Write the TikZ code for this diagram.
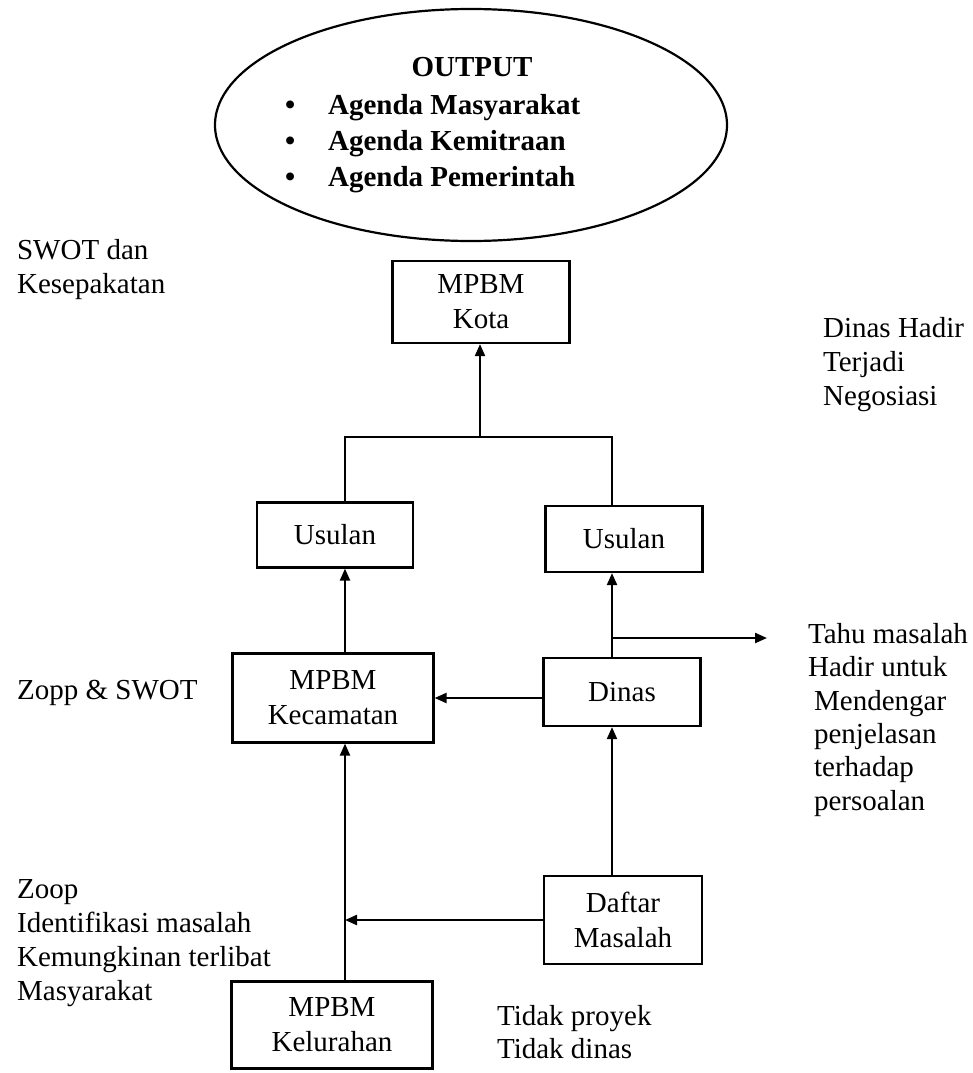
\documentclass[tikz,border=0pt]{standalone}
\usepackage{fontspec}
\setmainfont{Liberation Serif}
\usetikzlibrary{arrows.meta,shapes.geometric}
\tikzset{
  txt/.style = {align=left, inner sep=0pt, anchor=north west,
    font=\fontsize{29}{34.5}\selectfont},% loose text beside the chart
  bx/.style = {rectangle, draw=black, line width=2.2pt, align=center,
    inner sep=0pt, font=\fontsize{29}{35}\selectfont},% framed box
  ov/.style = {ellipse, draw=black, line width=2.2pt, inner sep=0pt,
    minimum width=512pt, minimum height=232pt}% output ellipse
}

\begin{document}
\begin{tikzpicture}[x=1pt,y=-1pt,line width=2.2pt,>={Triangle[length=12pt,width=10pt]}]
\useasboundingbox (0,0) rectangle (973,1073);
% output
\node [ov] (out) at (471,125) {};
\node [inner sep=0pt, anchor=base, font=\bfseries\fontsize{29}{35}\selectfont] (outt) at (472,77) {OUTPUT};
\node [txt, font=\bfseries\fontsize{29}{36}\selectfont] (agd) at (284,88)
  {\begin{tabular}{@{}p{43pt}@{}l@{}}
   \textbullet & Agenda Masyarakat\\
   \textbullet & Agenda Kemitraan\\
   \textbullet & Agenda Pemerintah
   \end{tabular}};
% boxes
\node [bx, minimum width=177pt, minimum height=82pt] (kota) at (481,302) {MPBM\\Kota};
\node [bx, minimum width=156pt, minimum height=65pt] (usl) at (335,535) {Usulan};
\node [bx, minimum width=157pt, minimum height=66pt] (usr) at (624,539) {Usulan};
\node [bx, minimum width=201pt, minimum height=89pt] (kec) at (333,698) {MPBM\\Kecamatan};
\node [bx, minimum width=157pt, minimum height=68pt] (dns) at (622,692) {Dinas};
\node [bx, minimum width=158pt, minimum height=88pt] (dft) at (623,920) {Daftar\\Masalah};
\node [bx, minimum width=201pt, minimum height=87pt] (kel) at (332,1025) {MPBM\\Kelurahan};
% side notes
\node [txt] (swot) at (16,238) {SWOT dan\\Kesepakatan};
\node [txt] (zopp) at (16,679) {Zopp \& SWOT};
\node [txt, font=\fontsize{29}{34}\selectfont] (zoop) at (16,878)
  {Zoop\\Identifikasi masalah\\Kemungkinan terlibat\\Masyarakat};
\node [txt, font=\fontsize{29}{34}\selectfont] (nego) at (822,316)
  {Dinas Hadir\\Terjadi\\Negosiasi};
\node [txt, font=\fontsize{29}{33.4}\selectfont] (tahu) at (807,622)
  {Tahu masalah\\Hadir untuk\\\hspace*{6pt}Mendengar\\\hspace*{6pt}penjelasan\\\hspace*{6pt}terhadap\\\hspace*{6pt}persoalan};
\node [txt, font=\fontsize{29}{33.5}\selectfont] (tdk) at (496,1004) {Tidak proyek\\Tidak dinas};
% junctions
\coordinate (jl) at (345,437);
\coordinate (jn) at (480,437);
\coordinate (jr) at (612,437);
\coordinate (br) at (612,638);
\coordinate (brend) at (767,638);
% connectors
\draw [->] (kel.north -| jl) -- (kec.south -| jl);
\draw [->] (dft.west) -- (dft.west -| jl);
\draw [->] (dft.north -| br) -- (dns.south -| br);
\draw [->] (dns.west |- kec.east) -- (kec.east);
\draw [->] (kec.north -| jl) -- (usl.south -| jl);
\draw [->] (dns.north -| br) -- (usr.south -| br);
\draw [->] (br) -- (brend);
\draw (usl.north -| jl) -- (jl) -- (jr) -- (usr.north -| jr);
\draw [->] (jn) -- (kota.south -| jn);
\end{tikzpicture}
\end{document}
